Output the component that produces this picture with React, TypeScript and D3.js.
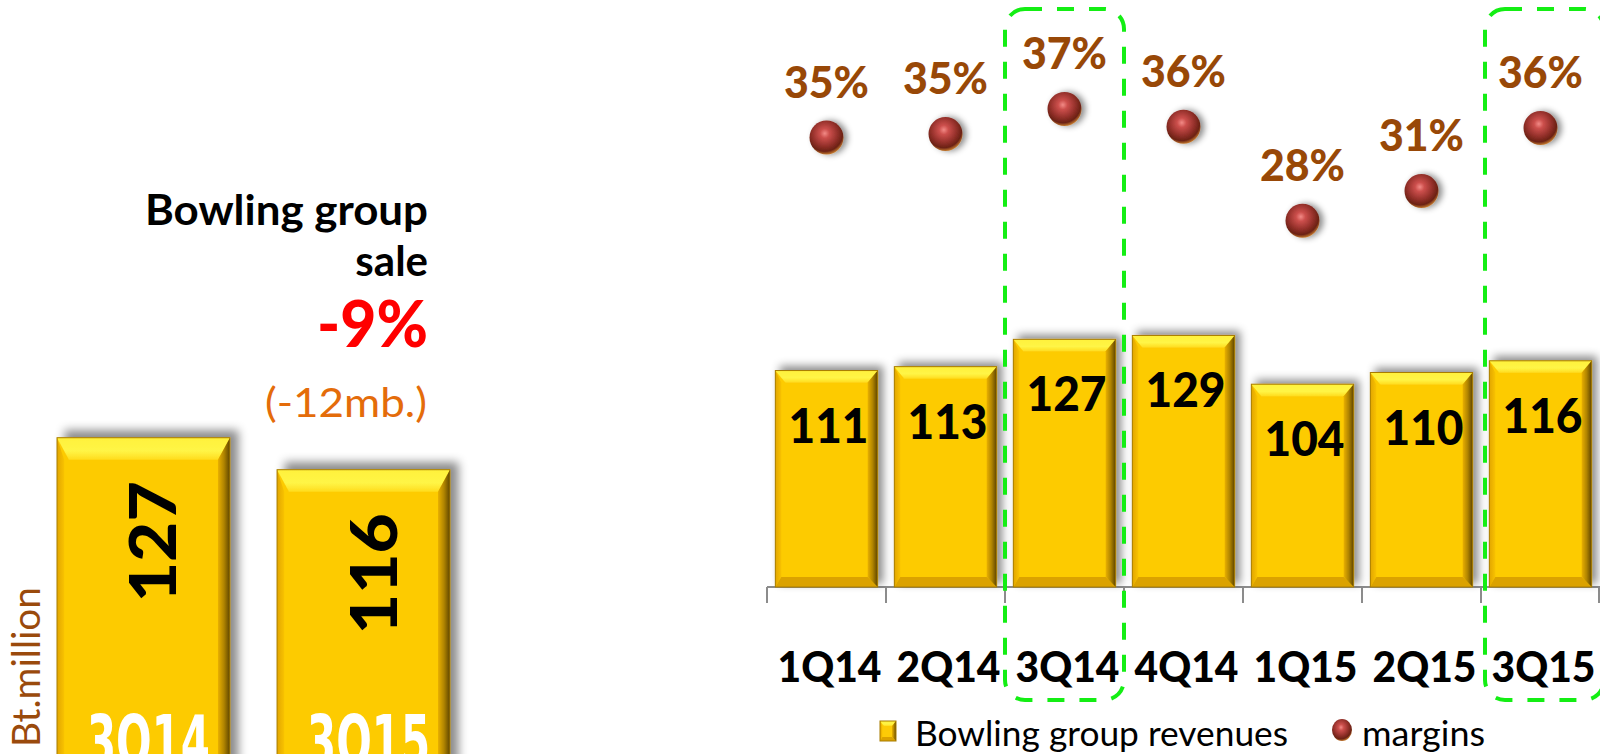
import React from 'react';
import * as d3 from 'd3';

// quarterly bowling revenues (Bt.million) and margins (%)
const quarters = ['1Q14', '2Q14', '3Q14', '4Q14', '1Q15', '2Q15', '3Q15'];
const revenues = [111, 113, 127, 129, 104, 110, 116];
const margins = [35.0, 35.3, 37.4, 35.9, 28.0, 30.5, 35.8];
const highlighted = ['3Q14', '3Q15'];

// year on year comparison (left panel)
const compareQuarters = ['3Q14', '3Q15'];
const compareSales = [127, 116];

const titleLines = ['Bowling group', 'sale'];
const changePct = '-9%';
const changeAmount = '(-12mb.)';
const unitLabel = 'Bt.million';
const legendLabels = ['Bowling group revenues', 'margins'];

const W = 1600;
const H = 754;
const brown = '#984807';

function bevelBar(g: any, x: number, y: number, w: number, h: number, t: number, s: number, filter: string) {
  const b = g.append('g').attr('filter', filter);
  b.append('rect').attr('x', x).attr('y', y).attr('width', w).attr('height', h)
    .attr('fill', '#fdcb06');
  // top bevel
  b.append('polygon')
    .attr('points', [[x, y], [x + w, y], [x + w - s, y + t], [x + s, y + t]].map(p => p.join(',')).join(' '))
    .attr('fill', 'url(#bevTop)');
  // left bevel
  b.append('polygon')
    .attr('points', [[x, y], [x + s * 0.6, y + t], [x + s * 0.6, y + h - s], [x, y + h]].map(p => p.join(',')).join(' '))
    .attr('fill', 'url(#bevLeft)');
  // bottom bevel
  b.append('polygon')
    .attr('points', [[x, y + h], [x + s * 0.6, y + h - s], [x + w - s, y + h - s], [x + w, y + h]].map(p => p.join(',')).join(' '))
    .attr('fill', '#dba200');
  // right bevel
  b.append('polygon')
    .attr('points', [[x + w, y], [x + w, y + h], [x + w - s, y + h - s], [x + w - s, y + t]].map(p => p.join(',')).join(' '))
    .attr('fill', 'url(#bevRight)');
  b.append('rect').attr('x', x).attr('y', y).attr('width', w).attr('height', h)
    .attr('fill', 'none').attr('stroke', '#a87c00').attr('stroke-width', 1);
}

function App() {
  const svgRef = React.useRef<SVGSVGElement>(null);

  React.useEffect(() => {
    const svg = d3.select(svgRef.current);
    svg.selectAll('*').remove();

    const defs = svg.append('defs');
    const lg = (id: string, x2: string, y2: string, stops: [string, string][]) => {
      const gr = defs.append('linearGradient').attr('id', id)
        .attr('x1', '0').attr('y1', '0').attr('x2', x2).attr('y2', y2);
      stops.forEach(([o, c]) => gr.append('stop').attr('offset', o).attr('stop-color', c));
    };
    lg('bevTop', '0', '1', [['0', '#fff13c'], ['0.6', '#fff546'], ['1', '#ffdc1e']]);
    lg('bevLeft', '1', '0', [['0', '#e2a600'], ['1', '#f8c200']]);
    lg('bevRight', '1', '0', [['0', '#e9b000'], ['0.5', '#b08400'], ['1', '#5e4400']]);

    const rg = defs.append('radialGradient').attr('id', 'ball')
      .attr('cx', '0.45').attr('cy', '0.38').attr('r', '0.62');
    [['0', '#f28a86'], ['0.22', '#cc4f4c'], ['0.6', '#94302a'], ['0.85', '#6b2214'], ['1', '#c2782e']]
      .forEach(([o, c]) => rg.append('stop').attr('offset', o).attr('stop-color', c));

    const shadow = (id: string, dx: number, dy: number, sd: number, op: number) =>
      defs.append('filter').attr('id', id).attr('x', '-30%').attr('y', '-30%').attr('width', '160%').attr('height', '160%')
        .append('feDropShadow').attr('dx', dx).attr('dy', dy).attr('stdDeviation', sd)
        .attr('flood-color', '#000').attr('flood-opacity', op);
    shadow('shBig', 8, -7, 5, 0.45);
    shadow('shSmall', 5, -4, 4, 0.45);
    shadow('shBall', 4, 0, 3, 0.45);

    // ---------- left panel ----------
    const xl = d3.scaleBand().domain(compareQuarters).range([57, 450]).paddingInner(0.214).paddingOuter(0);
    const yl = d3.scaleLinear().domain([0, 130]).range([807, 429]);
    const left = svg.append('g');
    compareQuarters.forEach((q, i) => {
      const x = xl(q)!;
      const y = yl(compareSales[i]);
      bevelBar(left, x, y, xl.bandwidth(), yl(0) - y, 22, 12, 'url(#shBig)');
      const cx = x + xl.bandwidth() / 2;
      left.append('text')
        .attr('transform', `translate(${cx + 33},${y + 104}) rotate(-90)`)
        .attr('text-anchor', 'middle')
        .attr('font-family', 'Lato, sans-serif').attr('font-weight', 900)
        .attr('font-size', 64).attr('textLength', 121).attr('lengthAdjust', 'spacingAndGlyphs')
        .attr('fill', '#000').text(compareSales[i]);
      left.append('text')
        .attr('x', cx + 5).attr('y', 766)
        .attr('text-anchor', 'middle')
        .attr('font-family', 'DejaVu Sans, sans-serif').attr('font-weight', 'bold')
        .attr('font-size', 72).attr('textLength', 123).attr('lengthAdjust', 'spacingAndGlyphs')
        .attr('fill', '#fff').text(q);
    });

    svg.append('text')
      .attr('transform', 'translate(40,667) rotate(-90)')
      .attr('text-anchor', 'middle')
      .attr('font-family', 'Lato, sans-serif').attr('font-size', 39)
      .attr('textLength', 160).attr('lengthAdjust', 'spacingAndGlyphs')
      .attr('fill', '#9a4a0c').text(unitLabel);

    const title = svg.append('g').attr('font-family', 'Lato, sans-serif').attr('text-anchor', 'end');
    title.append('text').attr('x', 428).attr('y', 225).attr('font-size', 42).attr('font-weight', 'bold')
      .attr('textLength', 283).attr('lengthAdjust', 'spacingAndGlyphs').text(titleLines[0]);
    title.append('text').attr('x', 428).attr('y', 276).attr('font-size', 42).attr('font-weight', 'bold')
      .text(titleLines[1]);
    title.append('text').attr('x', 428).attr('y', 347).attr('font-size', 64).attr('font-weight', 900)
      .attr('textLength', 111).attr('lengthAdjust', 'spacingAndGlyphs')
      .attr('fill', '#ff0000').text(changePct);
    title.append('text').attr('x', 427).attr('y', 417).attr('font-size', 40)
      .attr('textLength', 162).attr('lengthAdjust', 'spacingAndGlyphs')
      .attr('fill', '#e46c0a').text(changeAmount);

    // ---------- right panel ----------
    const x = d3.scaleBand().domain(quarters).range([767, 1600]).paddingInner(0.14).paddingOuter(0.07);
    const y = d3.scaleLinear().domain([0, 300]).range([587, 2]);
    const ym = d3.scaleLinear().domain([0, 40]).range([554, 78]);
    const step = x.step();
    const chart = svg.append('g');

    // axis
    chart.append('line').attr('x1', 767).attr('x2', 1600).attr('y1', 587).attr('y2', 587)
      .attr('stroke', '#8c8c8c').attr('stroke-width', 2);
    const tickXs = quarters.map(q => x(q)! - step * 0.07).concat([1599]);
    chart.selectAll('.tick').data(tickXs).enter().append('line')
      .attr('x1', d => d).attr('x2', d => d).attr('y1', 587).attr('y2', 603)
      .attr('stroke', '#8c8c8c').attr('stroke-width', 2);

    quarters.forEach((q, i) => {
      const bx = x(q)!;
      const by = y(revenues[i]);
      bevelBar(chart, bx, by, x.bandwidth(), y(0) - by, 12, 10, 'url(#shSmall)');
    });

    chart.selectAll('.val').data(revenues).enter().append('text')
      .attr('x', (d, i) => x(quarters[i])! + x.bandwidth() / 2 + 2)
      .attr('y', d => y(d) + 72)
      .attr('text-anchor', 'middle')
      .attr('font-family', 'Lato, sans-serif').attr('font-weight', 900).attr('font-size', 47)
      .attr('textLength', 80).attr('lengthAdjust', 'spacingAndGlyphs')
      .attr('fill', '#000').text(d => d);

    chart.selectAll('.ball').data(margins).enter().append('circle')
      .attr('cx', (d, i) => x(quarters[i])! + x.bandwidth() / 2)
      .attr('cy', d => ym(d))
      .attr('r', 17)
      .attr('fill', 'url(#ball)').attr('filter', 'url(#shBall)');

    chart.selectAll('.pct').data(margins).enter().append('text')
      .attr('x', (d, i) => x(quarters[i])! + x.bandwidth() / 2)
      .attr('y', d => ym(d) - 40)
      .attr('text-anchor', 'middle')
      .attr('font-family', 'Lato, sans-serif').attr('font-weight', 900).attr('font-size', 44)
      .attr('textLength', 85).attr('lengthAdjust', 'spacingAndGlyphs')
      .attr('fill', brown).text(d => `${Math.round(d)}%`);

    chart.selectAll('.cat').data(quarters).enter().append('text')
      .attr('x', d => x(d)! + x.bandwidth() / 2 + 3)
      .attr('y', 682)
      .attr('text-anchor', 'middle')
      .attr('font-family', 'Lato, sans-serif').attr('font-weight', 900).attr('font-size', 42)
      .attr('textLength', 104).attr('lengthAdjust', 'spacingAndGlyphs')
      .attr('fill', '#000').text(d => d);

    // highlighted quarters
    chart.selectAll('.hl').data(highlighted).enter().append('rect')
      .attr('x', d => x(d)! - step * 0.07 + (d === '3Q15' ? 4 : 0))
      .attr('y', 9)
      .attr('width', step)
      .attr('height', 691)
      .attr('rx', 20)
      .attr('fill', 'none')
      .attr('stroke', '#14ee14').attr('stroke-width', 4)
      .attr('stroke-dasharray', '17 15');

    // legend
    const leg = svg.append('g').attr('font-family', 'Lato, sans-serif').attr('font-size', 35).attr('fill', '#000');
    bevelBar(leg, 880, 721, 16, 20, 5, 4, '');
    leg.append('text').attr('x', 915).attr('y', 746)
      .attr('textLength', 373).attr('lengthAdjust', 'spacingAndGlyphs').text(legendLabels[0]);
    leg.append('ellipse').attr('cx', 1342).attr('cy', 730).attr('rx', 10).attr('ry', 11)
      .attr('fill', 'url(#ball)');
    leg.append('text').attr('x', 1362).attr('y', 746)
      .attr('textLength', 123).attr('lengthAdjust', 'spacingAndGlyphs').text(legendLabels[1]);
  }, []);

  return (
    <div style={{ position: 'absolute', left: 0, top: 0, width: W, height: H, background: '#fff' }}>
      <svg ref={svgRef} width={W} height={H} style={{ display: 'block' }} />
    </div>
  );
}

export default App;
